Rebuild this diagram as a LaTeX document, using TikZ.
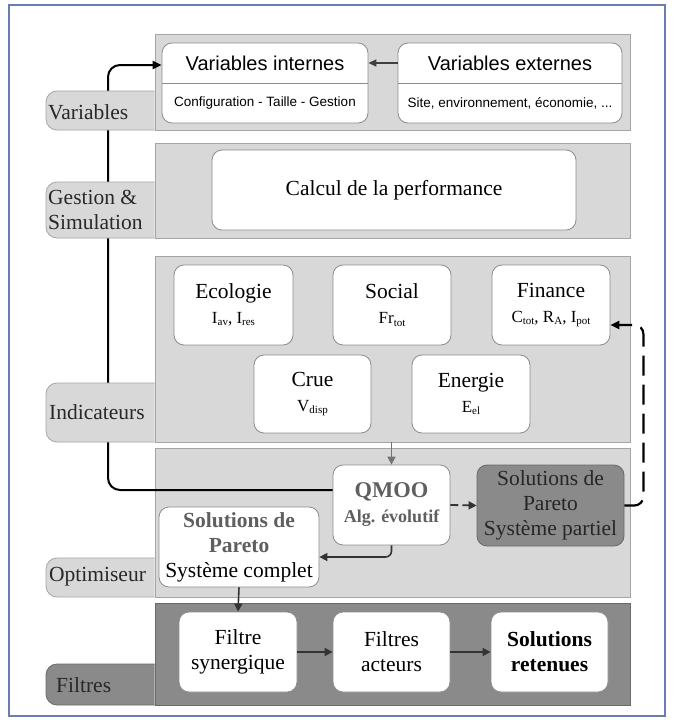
\documentclass[tikz,border=0pt]{standalone}
\usepackage{fontspec}
\setmainfont{Liberation Serif}
\newfontfamily\sansf{Liberation Sans}
\usetikzlibrary{arrows.meta,calc}
\definecolor{pfill}{RGB}{216,216,216}
\definecolor{pborder}{RGB}{165,165,165}
\definecolor{dfill}{RGB}{138,138,138}
\definecolor{dborder}{RGB}{105,105,105}
\definecolor{bborder}{RGB}{140,140,140}
\definecolor{graytext}{RGB}{95,95,95}
\definecolor{labtext}{RGB}{40,40,40}
\definecolor{framec}{RGB}{105,125,175}
\newcommand\lowsub[1]{\raisebox{-0.3ex}{\fontsize{11}{11}\selectfont #1}}
\newcommand\fsz[2]{\fontsize{#1}{#2}\selectfont}
\begin{document}
\begin{tikzpicture}[x=1pt,y=-1pt,
  panel/.style={draw=pborder, fill=pfill, line width=0.8pt, inner sep=0pt},
  dpanel/.style={draw=dborder, fill=dfill, line width=0.8pt, inner sep=0pt},
  tabst/.style={draw=pborder, fill=pfill, line width=0.8pt, rounded corners=11pt},
  dtabst/.style={draw=dborder, fill=dfill, line width=0.8pt, rounded corners=11pt},
  tablabel/.style={anchor=west, inner sep=0pt, text=labtext, font=\fsz{21.5}{25}, align=left},
  wbox/.style={draw=bborder, fill=white, line width=0.8pt, rounded corners=10pt, inner sep=0pt, align=center, font=\fsz{21.5}{25}},
  gbox/.style={draw=dborder, fill=dfill, line width=0.8pt, rounded corners=10pt, inner sep=0pt, align=center, font=\fsz{21.5}{25}, text=black!85},
  stitle/.style={inner sep=0pt, font=\sansf\fsz{20}{24}},
  ssub/.style={inner sep=0pt, font=\sansf\fsz{13.5}{16}},
  loopline/.style={line width=2pt, black, -{Triangle[length=9pt,width=8pt]}},
  darrow/.style={line width=1.6pt, black!80, -{Triangle[length=8pt,width=8pt]}},
  garrow/.style={line width=1.6pt, black!55, -{Triangle[length=8pt,width=8pt]}},
  dashline/.style={line width=2.2pt, black, dash pattern=on 20pt off 9pt, -{Triangle[length=9pt,width=8pt]}},
  shortdash/.style={line width=1.8pt, black!80, dash pattern=on 8pt off 4pt, -{Triangle[length=8pt,width=8pt]}}
]
\useasboundingbox (0,0) rectangle (675,720);
\fill[white] (0,0) rectangle (675,720);
\draw[framec, line width=1.2pt] (9,5) rectangle (665,716);

% panels
\node[panel, minimum width=475pt, minimum height=96pt] (pvar) at (392.5,82) {};
\node[panel, minimum width=475pt, minimum height=95pt] (pges) at (392.5,190.5) {};
\node[panel, minimum width=475pt, minimum height=186pt] (pind) at (392.5,349) {};
\node[panel, minimum width=475pt, minimum height=149pt] (popt) at (392.5,522.5) {};
\node[dpanel, minimum width=475pt, minimum height=102pt] (pfil) at (392.5,654) {};

% variables boxes
\node[wbox, minimum width=206pt, minimum height=80pt] (internes) at (265,83) {};
\node[wbox, minimum width=224pt, minimum height=80pt] (externes) at (510,83) {};
\draw[bborder, line width=0.8pt] (internes.west) -- (internes.east);
\draw[bborder, line width=0.8pt] (externes.west) -- (externes.east);
\node[stitle] (inttitle) at (265,63) {Variables internes};
\node[stitle] (exttitle) at (510,63) {Variables externes};
\node[ssub] (intsub) at (265,103) {Configuration - Taille - Gestion};
\node[ssub] (extsub) at (510,103) {Site, environnement, économie, ...};

% gestion
\node[wbox, minimum width=364pt, minimum height=80pt] (calcul) at (394,190) {Calcul de la performance};

% indicateurs
\node[wbox, minimum width=119pt, minimum height=80pt] (eco) at (233.5,305) {Ecologie\\{\fsz{17}{25}I\lowsub{av}, I\lowsub{res}}};
\node[wbox, minimum width=118pt, minimum height=80pt] (soc) at (392,305) {Social\\{\fsz{17}{25}Fr\lowsub{tot}}};
\node[wbox, minimum width=118pt, minimum height=80pt] (fin) at (551,305) {Finance\\{\fsz{17}{25}C\lowsub{tot}, R\lowsub{A}, I\lowsub{pot}}};
\node[wbox, minimum width=117pt, minimum height=78pt] (crue) at (312.5,394) {Crue\\{\fsz{17}{25}V\lowsub{disp}}};
\node[wbox, minimum width=118pt, minimum height=78pt] (ener) at (471,394) {Energie\\{\fsz{17}{25}E\lowsub{el}}};

% optimiseur
\node[wbox, minimum width=117pt, minimum height=80pt, text=graytext] (qmoo) at (391.5,505) {{\fsz{22.5}{27}\bfseries QMOO}\\{\fsz{18}{25}\bfseries Alg. évolutif}};
\node[gbox, minimum width=147pt, minimum height=81pt] (partial) at (550.5,505.5) {Solutions de\\Pareto\\Système partiel};
\node[wbox, minimum width=160pt, minimum height=80pt] (complet) at (239,547) {\textbf{\textcolor{graytext}{Solutions de}}\\\textbf{\textcolor{graytext}{Pareto}}\\Système complet};

% filtres
\node[wbox, minimum width=118pt, minimum height=80pt] (syn) at (238,652) {Filtre\\synergique};
\node[wbox, minimum width=117pt, minimum height=80pt] (act) at (391.5,652) {Filtres\\acteurs};
\node[wbox, minimum width=117pt, minimum height=80pt] (ret) at (549.5,652) {\textbf{Solutions}\\\textbf{retenues}};

% feedback loop
\draw[loopline, rounded corners=12pt] ([yshift=15pt]qmoo.west) -| (108,65) -- ([yshift=18pt]internes.west);

% tabs
\filldraw[tabst] (154.6,91) -- (46,91) -- (46,130) -- (154.6,130);
\filldraw[tabst] (154.6,182) -- (46,182) -- (46,238) -- (154.6,238);
\filldraw[tabst] (154.6,383) -- (46,383) -- (46,442) -- (154.6,442);
\filldraw[tabst] (154.6,558) -- (46,558) -- (46,597) -- (154.6,597);
\filldraw[dtabst] (154.6,664) -- (46,664) -- (46,705) -- (154.6,705);
\node[tablabel] (lvar) at (48,112) {Variables};
\node[tablabel] (lges) at (48,210) {Gestion \&\\Simulation};
\node[tablabel] (lind) at (49,412) {Indicateurs};
\node[tablabel] (lopt) at (49,577) {Optimiseur};
\node[tablabel] (lfil) at (56,685) {Filtres};

% connectors
\draw[line width=1.3pt, black!75, -{Triangle[length=8pt,width=7pt]}] (externes.west |- inttitle) -- (internes.east |- inttitle);
\draw[garrow] (qmoo.north |- pind.south) -- (qmoo.north);
\draw[shortdash] (qmoo.east) -- (partial.west);
\draw[dashline, rounded corners=9pt] (partial.east) -| ($(fin.east)+(33,20)$) -- ([yshift=-20pt]fin.east);
\draw[darrow, rounded corners=6pt] (qmoo.south) |- ([yshift=-10pt]complet.east);
\draw[darrow] (complet.south) -- (syn.north);
\draw[darrow] (syn) -- (act);
\draw[darrow] (act) -- (ret);
\end{tikzpicture}
\end{document}
